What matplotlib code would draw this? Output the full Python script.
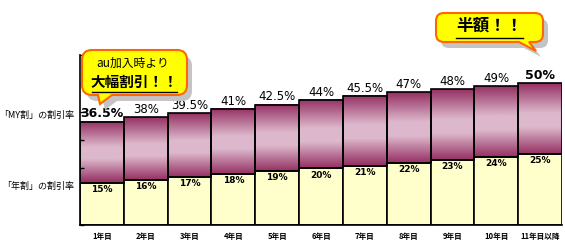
import numpy as np
import matplotlib
matplotlib.use('Agg')
import matplotlib.pyplot as plt
from matplotlib.path import Path
from matplotlib.patches import PathPatch
from matplotlib.transforms import Affine2D
from matplotlib.colors import LinearSegmentedColormap
from matplotlib.lines import Line2D

plt.rcParams['font.family'] = ['Noto Sans CJK JP', 'DejaVu Sans']

years = ['1年目', '2年目', '3年目', '4年目', '5年目', '6年目', '7年目',
         '8年目', '9年目', '10年目', '11年目以降']
my_rate = [36.5, 38, 39.5, 41, 42.5, 44, 45.5, 47, 48, 49, 50]
nen_rate = [15, 16, 17, 18, 19, 20, 21, 22, 23, 24, 25]

W, H = 565, 250
fig = plt.figure(figsize=(W / 100, H / 100), dpi=100)
# pixel coords with y measured from top
px = Affine2D().scale(1 / W, -1 / H).translate(0, 1) + fig.transFigure

ax = fig.add_axes([80 / W, 25 / H, 482 / W, 170 / H])
n = len(years)

# gradient for the MY割 part: dark at top and bottom, light in the middle
cmap = LinearSegmentedColormap.from_list(
    'mauve', [(0, '#963264'), (0.42, '#DDB8CC'), (0.62, '#DDB8CC'), (1, '#963264')])
grad = np.linspace(0, 1, 64).reshape(-1, 1)

for i in range(n):
    ax.bar(i, nen_rate[i], width=1, align='edge', color='#FFFFCC',
           edgecolor='black', linewidth=1.2, zorder=2)
    ax.imshow(grad, cmap=cmap, aspect='auto', origin='upper',
              extent=[i, i + 1, nen_rate[i], my_rate[i]], zorder=1)
    ax.bar(i, my_rate[i] - nen_rate[i], bottom=nen_rate[i], width=1, align='edge',
           color='none', edgecolor='black', linewidth=1.2, zorder=3)
    bold = i in (0, n - 1)
    ax.text(i + 0.5, my_rate[i] + 0.4, f'{my_rate[i]:g}%', ha='center', va='bottom',
            fontsize=8.5 if not bold else 9, fontweight='bold' if bold else 'normal',
            family=['DejaVu Sans'])
    ax.text(i + 0.5, nen_rate[i] - 0.8, f'{nen_rate[i]}%', ha='center', va='top',
            fontsize=6.5, fontweight='bold', family=['DejaVu Sans'])

ax.set_xlim(0, n)
ax.set_ylim(0, 60)
ax.set_yticks(range(0, 61, 10))
ax.set_yticklabels([])
ax.tick_params(axis='y', direction='in', length=3, width=1)
ax.set_xticks([i + 0.5 for i in range(n)])
ax.set_xticklabels(years, fontsize=5.5, fontweight='bold')
ax.tick_params(axis='x', length=0, pad=5)
for s in ('top', 'right'):
    ax.spines[s].set_visible(False)
ax.spines['left'].set_linewidth(1.2)
ax.spines['bottom'].set_linewidth(1.2)

fig.text(74, 115, '「MY割」の割引率', transform=px, ha='right', va='center', fontsize=6.5)
fig.text(74, 186, '「年割」の割引率', transform=px, ha='right', va='center', fontsize=6.5)


def bubble(x0, x1, y0, y1, r, t0, t1, tip):
    verts = [(x0 + r, y0), (x1 - r, y0), (x1, y0), (x1, y0 + r),
             (x1, y1 - r), (x1, y1), (x1 - r, y1),
             (t1, y1), tip, (t0, y1),
             (x0 + r, y1), (x0, y1), (x0, y1 - r),
             (x0, y0 + r), (x0, y0), (x0 + r, y0), (x0 + r, y0)]
    codes = [Path.MOVETO, Path.LINETO, Path.CURVE3, Path.CURVE3,
             Path.LINETO, Path.CURVE3, Path.CURVE3,
             Path.LINETO, Path.LINETO, Path.LINETO,
             Path.LINETO, Path.CURVE3, Path.CURVE3,
             Path.LINETO, Path.CURVE3, Path.CURVE3, Path.CLOSEPOLY]
    return Path(verts, codes)


def callout(x0, x1, y0, y1, r, t0, t1, tip):
    p = bubble(x0, x1, y0, y1, r, t0, t1, tip)
    sh = Affine2D().translate(5, 6)
    fig.add_artist(PathPatch(p, transform=sh + px, facecolor='#C4C4C4',
                             edgecolor='none'))
    fig.add_artist(PathPatch(p, transform=px, facecolor='#FFFF00',
                             edgecolor='#FF6600', linewidth=1.5))


callout(82, 187, 50, 95, 10, 98, 112, (100, 104))
fig.text(133, 63, 'au加入時より', transform=px, ha='center', va='center', fontsize=8.5)
fig.text(134, 82, '大幅割引！！', transform=px, ha='center', va='center',
         fontsize=10.5, fontweight='bold')
fig.add_artist(Line2D([92, 177], [92, 92], transform=px, color='black', linewidth=1))

callout(436, 543, 13, 42, 8, 519, 529, (536, 51))
fig.text(489, 26, '半額！！', transform=px, ha='center', va='center',
         fontsize=12, fontweight='bold')
fig.add_artist(Line2D([456, 523], [38, 38], transform=px, color='black', linewidth=1))

fig.savefig('out.png', dpi=100)
